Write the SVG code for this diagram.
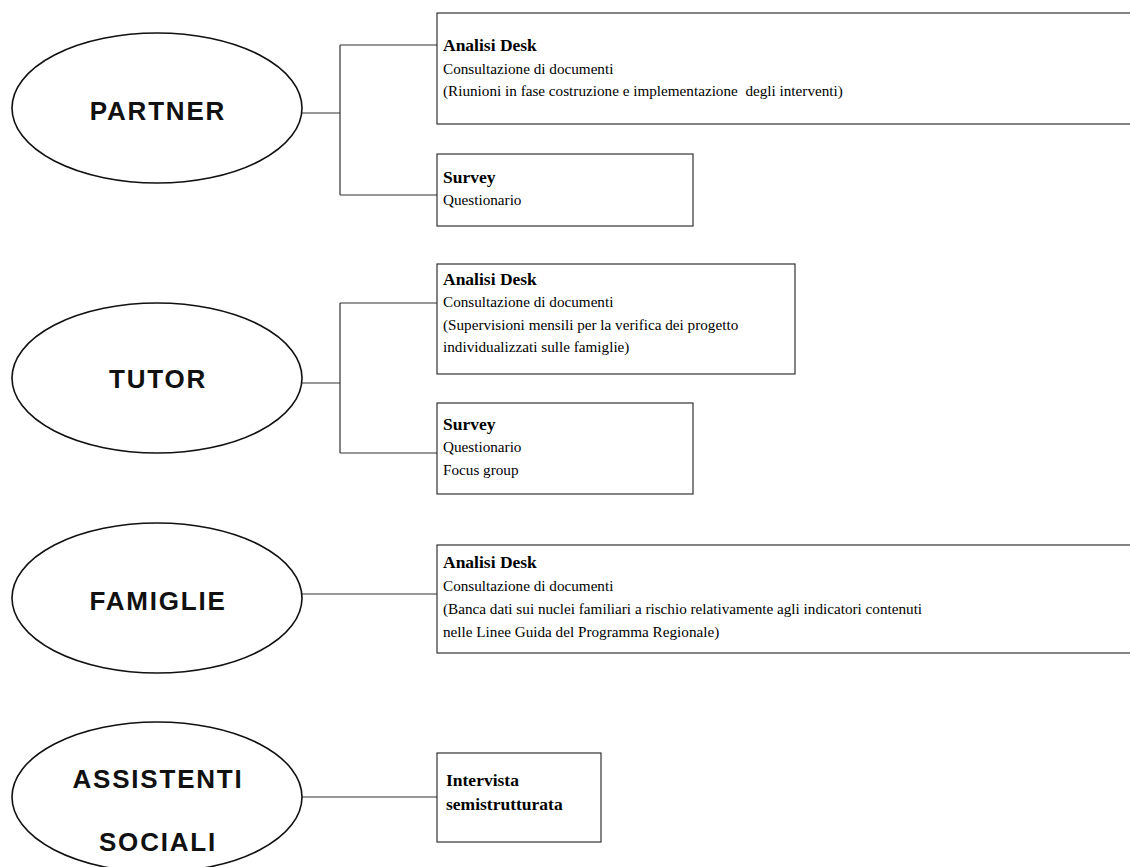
<svg xmlns="http://www.w3.org/2000/svg" width="1130" height="867" viewBox="0 0 1130 867">
<style>
.bg{fill:#fff}
.ell{fill:#fff;stroke:#111;stroke-width:1.6}
.box{fill:#fff;stroke:#333;stroke-width:1.2}
.con{fill:none;stroke:#333;stroke-width:1.2}
.lbl{font-family:"Liberation Sans",Arial,sans-serif;font-weight:bold;font-size:26px;fill:#111;letter-spacing:1.8px}
.h{font-family:"Liberation Serif","Times New Roman",serif;font-weight:bold;font-size:17.5px;fill:#000}
.t{font-family:"Liberation Serif","Times New Roman",serif;font-size:15.2px;fill:#000}
</style>
<rect class="bg" x="0" y="0" width="1130" height="867"/>
<g id="connectors">
<path class="con" d="M302,113 H340 M340,45 V195 M340,45 H437 M340,195 H437"/>
<path class="con" d="M302,383 H340 M340,303 V453 M340,303 H437 M340,453 H437"/>
<path class="con" d="M302,594 H437"/>
<path class="con" d="M302,797 H437"/>
</g>
<g id="partner">
<ellipse class="ell" cx="157" cy="108" rx="145" ry="75"/>
<text class="lbl" x="158" y="120" text-anchor="middle">PARTNER</text>
</g>
<g id="partner-desk">
<rect class="box" x="437" y="13" width="700" height="111"/>
<text class="h" x="443" y="51">Analisi Desk</text>
<text class="t" x="443" y="74">Consultazione di documenti</text>
<text class="t" x="443" y="96" xml:space="preserve">(Riunioni in fase costruzione e implementazione  degli interventi)</text>
</g>
<g id="partner-survey">
<rect class="box" x="437" y="154" width="256" height="72"/>
<text class="h" x="443" y="183">Survey</text>
<text class="t" x="443" y="205">Questionario</text>
</g>
<g id="tutor">
<ellipse class="ell" cx="157" cy="378" rx="145" ry="75"/>
<text class="lbl" x="158" y="388" text-anchor="middle">TUTOR</text>
</g>
<g id="tutor-desk">
<rect class="box" x="437" y="264" width="358" height="110"/>
<text class="h" x="443" y="285">Analisi Desk</text>
<text class="t" x="443" y="307">Consultazione di documenti</text>
<text class="t" x="443" y="330">(Supervisioni mensili per la verifica dei progetto</text>
<text class="t" x="443" y="352">individualizzati sulle famiglie)</text>
</g>
<g id="tutor-survey">
<rect class="box" x="437" y="403" width="256" height="91"/>
<text class="h" x="443" y="430">Survey</text>
<text class="t" x="443" y="452">Questionario</text>
<text class="t" x="443" y="475">Focus group</text>
</g>
<g id="famiglie">
<ellipse class="ell" cx="157" cy="598" rx="145" ry="75"/>
<text class="lbl" x="158" y="610" text-anchor="middle">FAMIGLIE</text>
</g>
<g id="famiglie-desk">
<rect class="box" x="437" y="545" width="700" height="108"/>
<text class="h" x="443" y="568">Analisi Desk</text>
<text class="t" x="443" y="591">Consultazione di documenti</text>
<text class="t" x="443" y="614">(Banca dati sui nuclei familiari a rischio relativamente agli indicatori contenuti</text>
<text class="t" x="443" y="637">nelle Linee Guida del Programma Regionale)</text>
</g>
<g id="assistenti">
<ellipse class="ell" cx="157" cy="797" rx="145" ry="75"/>
<text class="lbl" x="158" y="788" text-anchor="middle">ASSISTENTI</text>
<text class="lbl" x="158" y="851" text-anchor="middle">SOCIALI</text>
</g>
<g id="assistenti-intervista">
<rect class="box" x="437" y="753" width="164" height="89"/>
<text class="h" x="446" y="786">Intervista</text>
<text class="h" x="446" y="810">semistrutturata</text>
</g>
</svg>
